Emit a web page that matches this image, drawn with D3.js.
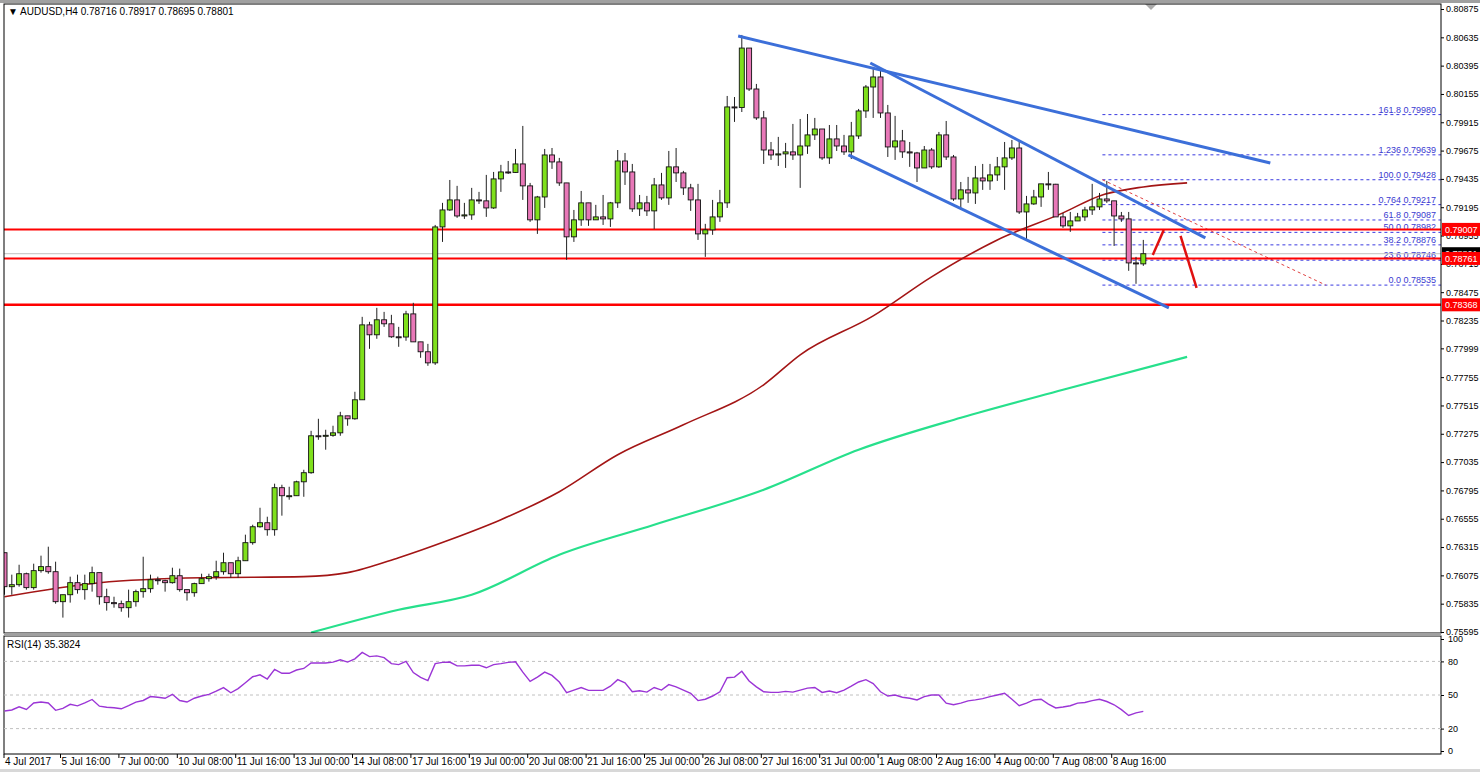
<!DOCTYPE html>
<html><head><meta charset="utf-8">
<script src="https://cdn.jsdelivr.net/npm/d3@7"></script>
<style>body{margin:0;background:#fff;font-family:"Liberation Sans",Arial,sans-serif;}</style>
</head><body><svg id="c" width="1480" height="772" font-family="Liberation Sans, Arial, sans-serif"></svg>
<script>
// ---- data (prices ×1e5 for OHLC arrays) ----
const firstOpen5 = 76267;
const closes5 = [75979,75996,76089,75971,76115,76149,76106,75852,75911,76013,
75954,76005,76098,75894,75844,75835,75801,75852,75937,75962,
76038,76030,76013,76072,75954,75928,76005,76047,76064,76106,
76182,76089,76199,76352,76487,76521,76462,76818,76750,76750,
76868,76945,77258,77255,77262,77283,77427,77402,77563,78198,
78114,78241,78207,78097,78095,78291,78054,77970,77876,79028,
79172,79257,79121,79130,79257,79249,79189,79435,79494,79490,
79562,79376,79088,79282,79638,79579,79401,78944,79088,79232,
79088,79113,79096,79232,79587,79494,79181,79232,79164,79384,
79274,79537,79486,79359,79257,78969,79003,79113,79232,80045,
80040,80544,80197,79952,79680,79638,79647,79664,79638,79714,
79808,79858,79613,79774,79714,79664,79799,80011,80214,80299,
79994,79706,79757,79664,79655,79528,79680,79537,79808,79621,
79265,79342,79316,79443,79418,79469,79537,79613,79697,79155,
79223,79282,79393,79390,79113,79037,79079,79113,79172,79198,
79265,79249,79121,79096,78723,78715,78801];
const highs5 = [76267,76081,76165,76098,76174,76242,76318,76191,75911,76064,
76081,76081,76149,76098,75962,75894,75861,75954,75954,76233,
76081,76064,76038,76140,76132,75954,76013,76089,76089,76199,
76267,76182,76233,76420,76504,76648,76572,76852,76843,76826,
76877,76970,77300,77402,77309,77343,77461,77427,77631,78266,
78224,78342,78308,78283,78181,78317,78385,78054,78037,79045,
79232,79426,79376,79232,79359,79325,79469,79494,79554,79587,
79689,79884,79401,79291,79689,79697,79613,79401,79172,79333,
79232,79215,79299,79240,79680,79655,79562,79299,79291,79443,
79486,79672,79697,79503,79393,79393,79054,79257,79342,80138,
80129,80655,80544,80240,80011,79748,79791,79740,79901,79943,
79985,79952,79816,79892,79892,79808,79918,80028,80231,80384,
80375,80062,79969,79850,79748,79664,79714,79697,79833,79926,
79638,79409,79452,79545,79562,79562,79621,79748,79765,79757,
79291,79342,79393,79494,79393,79147,79155,79147,79198,79393,
79316,79418,79249,79155,79155,78774,78918];
const lows5 = [75911,75911,75979,75954,75954,76098,76089,75835,75717,75844,
75920,75869,75937,75827,75776,75801,75767,75717,75810,75886,
75928,75996,75937,76005,75937,75861,75894,76005,76022,76038,
76081,76055,76055,76199,76335,76479,76411,76411,76581,76716,
76750,76741,76936,77224,77140,77250,77258,77343,77394,77563,
77995,78080,78181,78088,78012,78063,78054,77919,77851,77859,
78901,79164,79105,79096,79088,79223,79113,79181,79325,79477,
79486,79257,79071,78969,79189,79520,79376,78749,78901,79037,
79037,79088,79045,79028,79189,79384,79155,79121,79121,79011,
79257,79215,79409,79299,79164,78918,78774,78961,79071,79189,
79918,80002,80180,79935,79562,79596,79545,79528,79596,79359,
79647,79765,79596,79562,79672,79638,79604,79774,79952,79952,
79952,79621,79596,79613,79537,79409,79587,79520,79528,79596,
79249,79172,79232,79223,79342,79342,79418,79342,79596,79138,
78918,79215,79198,79342,79113,79020,78986,79130,79079,79130,
79172,79232,78867,79071,78656,78546,78698];
const rsi = [35.7,36.6,39.4,37.1,42.9,43.7,42.9,36.3,38,41.7,40.3,42.9,46,40,39.1,38.6,37.7,40.6,43.7,45.1,
48.6,48,47.1,50.6,45.1,43.7,47.1,49.1,50.6,53.4,56.6,52,55.7,60.9,66.3,68,64.3,72.9,69.4,69.4,
72.3,73.7,78.6,78.6,78.6,79.4,81.4,79.4,82.3,88,84.3,84.9,83.4,78,77.1,80,70,65.7,62.9,78,
79.1,79.4,76,76,76.6,76.6,74.3,77.1,78,79.1,79.7,70.4,62.2,66,70.4,67.5,61.6,52,54.4,56.7,
54.1,54.1,54.1,57.9,63.7,60.8,52.9,53.8,52.6,56.7,54.4,59.3,57.3,54.4,51.5,45,46.2,49.1,52.9,65.4,
66,71.2,62.5,57.3,52.9,52.3,52.3,53.2,52.6,54.4,56.1,56.7,52.3,53.5,52,54.4,57.9,61.6,63.7,60.2,
52.9,49.1,50,48,47.1,45.6,48.5,50,50,42.7,41.3,42.7,44.8,45.6,46.8,48.5,50,51.5,46.2,40.4,
42.7,45.6,46.2,41.8,38.4,39.3,40.4,42.7,43.3,45,46.2,44.2,41.3,36.9,31.7,34,35.38];
const ma100 = [[0,0.75894],[13,0.76013],[27,0.76055],[41,0.76064],[47,0.76098],[54,0.76225],[61,0.76377],[68,0.76547],[76,0.76784],[84,0.77097],[93,0.77351],[104,0.77690],[109,0.77944],[119,0.78274],[127,0.78605],[136,0.78918],[145,0.79147],[150,0.79291],[156,0.79367],[162,0.79401]];
const ma200 = [[42,0.75590],[54,0.75784],[64,0.75911],[76,0.76250],[89,0.76504],[104,0.76801],[117,0.77140],[131,0.77411],[145,0.77648],[162,0.77927]];
const trendLines = [[[100.5,0.80646],[173.4,0.79570]],[[118.6,0.80417],[164.5,0.78935]],[[115.6,0.79638],[159.5,0.78342]]];
const fibLevels = [0.79980,0.79639,0.79428,0.79217,0.79087,0.78982,0.78876,0.78746,0.78535];
const fibLabels = ["161.8 0.79980","1.236 0.79639","100.0 0.79428","0.764 0.79217","61.8 0.79087","50.0 0.78982","38.2 0.78876","23.6 0.78746","0.0 0.78535"];
const redLevels = [0.79007,0.78761,0.78368];
const currentPrice = 0.78801;
const arrows = [[[157.3,0.78791],[158.8,0.79003]],[[161.1,0.78952],[163.3,0.78512]]];
const diagDash = [[150.4,0.79428],[181,0.78535]];
const priceTicks = [0.80875,0.80635,0.80395,0.80155,0.79915,0.79675,0.79435,0.79195,0.78955,0.78715,0.78475,0.78235,0.77999,0.77755,0.77515,0.77275,0.77035,0.76795,0.76555,0.76315,0.76075,0.75835,0.75595];
const timeBars = [0,10,18,26,34,42,50,58,66,74,82,90,98,106,114,122,130,138,146,154];
const timeLabels = ["4 Jul 2017","5 Jul 16:00","7 Jul 00:00","10 Jul 08:00","11 Jul 16:00","13 Jul 00:00","14 Jul 08:00","17 Jul 16:00","19 Jul 00:00","20 Jul 08:00","21 Jul 16:00","25 Jul 00:00","26 Jul 08:00","27 Jul 16:00","31 Jul 00:00","1 Aug 08:00","2 Aug 16:00","4 Aug 00:00","7 Aug 08:00","8 Aug 16:00"];
const rsiLevels = [80,50,20];
const rsiTicks = [100,80,50,20,0];

const svg = d3.select("#c");
const L=4, R=1441, T=4, B=633, RT=636, RB=754;
const x = d3.scaleLinear().domain([0,156]).range([4.5,4.5+7.3*156]);
const y = d3.scaleLinear().domain([0.75595,0.80875]).range([632,9]);
const yr = d3.scaleLinear().domain([0,100]).range([751,639]);
const bars = closes5.map((c,i)=>{const o=(i?closes5[i-1]:firstOpen5)/1e5, cc=c/1e5;
  return {i,o,c:cc,h:Math.max(highs5[i]/1e5,o,cc),l:Math.min(lows5[i]/1e5,o,cc)};});

svg.append("rect").attr("width",1480).attr("height",772).attr("fill","#fff");
svg.append("clipPath").attr("id","cp").append("rect").attr("x",L).attr("y",T).attr("width",R-L).attr("height",B-T);
svg.append("clipPath").attr("id","cr").append("rect").attr("x",L).attr("y",RT).attr("width",R-L).attr("height",RB-RT);
const g = svg.append("g").attr("clip-path","url(#cp)");

fibLevels.forEach((v,k)=>{
  g.append("line").attr("x1",x(150.4)).attr("x2",R).attr("y1",y(v)).attr("y2",y(v))
   .attr("stroke","#3a3ae0").attr("stroke-dasharray","3,3").attr("stroke-width",1);
  g.append("text").attr("x",R-5).attr("y",y(v)-2).attr("text-anchor","end").attr("font-size",9)
   .attr("fill","#3a3ad0").text(fibLabels[k]);
});
g.append("line").attr("x1",x(diagDash[0][0])).attr("y1",y(diagDash[0][1])).attr("x2",x(diagDash[1][0])).attr("y2",y(diagDash[1][1]))
 .attr("stroke","#e04040").attr("stroke-dasharray","3,3");
g.append("line").attr("x1",L).attr("x2",R).attr("y1",y(currentPrice)).attr("y2",y(currentPrice)).attr("stroke","#c0c0c0");
redLevels.forEach((v,k)=>g.append("line").attr("x1",L).attr("x2",R).attr("y1",y(v)).attr("y2",y(v))
  .attr("stroke","#ff0000").attr("stroke-width",k==2?2.5:2));
const ln = d3.line().x(d=>x(d[0])).y(d=>y(d[1])).curve(d3.curveMonotoneX);
g.append("path").attr("d",ln(ma200)).attr("fill","none").attr("stroke","#27e08c").attr("stroke-width",2.2);
g.append("path").attr("d",ln(ma100)).attr("fill","none").attr("stroke","#a31515").attr("stroke-width",1.6);
const cg = g.selectAll(".k").data(bars).join("g");
cg.append("line").attr("x1",d=>x(d.i)).attr("x2",d=>x(d.i)).attr("y1",d=>y(d.h)).attr("y2",d=>y(d.l)).attr("stroke","#222");
cg.append("rect").attr("x",d=>x(d.i)-2.5).attr("width",5)
  .attr("y",d=>y(Math.max(d.o,d.c))).attr("height",d=>Math.max(1,Math.abs(y(d.o)-y(d.c))))
  .attr("fill",d=>d.c>=d.o?"#7fe01c":"#e878b8").attr("stroke","#111").attr("stroke-width",0.9);
trendLines.forEach(t=>g.append("line").attr("x1",x(t[0][0])).attr("y1",y(t[0][1])).attr("x2",x(t[1][0])).attr("y2",y(t[1][1]))
  .attr("stroke","#3c6fd9").attr("stroke-width",3));
arrows.forEach(a=>g.append("line").attr("x1",x(a[0][0])).attr("y1",y(a[0][1])).attr("x2",x(a[1][0])).attr("y2",y(a[1][1]))
  .attr("stroke","#e01010").attr("stroke-width",2.5));

svg.append("text").attr("x",8).attr("y",15).attr("font-size",10).attr("fill","#000").text("▼  AUDUSD,H4  0.78716 0.78917 0.78695 0.78801");
svg.append("path").attr("d","M1145,4 L1157,4 L1151,10 Z").attr("fill","#aaa");

svg.append("rect").attr("x",L).attr("y",T).attr("width",R-L).attr("height",B-T).attr("fill","none").attr("stroke","#000");
svg.append("rect").attr("x",L).attr("y",RT).attr("width",R-L).attr("height",RB-RT).attr("fill","none").attr("stroke","#000");
svg.append("rect").attr("x",0).attr("y",0).attr("width",1480).attr("height",3).attr("fill","#a0a0a0");
svg.append("rect").attr("x",L).attr("y",B).attr("width",R-L).attr("height",3).attr("fill","#a0a0a0");

const ax = svg.append("g").attr("transform",`translate(${R},0)`)
  .call(d3.axisRight(y).tickValues(priceTicks).tickFormat(d3.format(".5f")).tickSize(3).tickPadding(2));
ax.select(".domain").remove();
ax.selectAll("text").attr("font-size",9).attr("font-family","Liberation Sans, Arial").attr("fill","#000");
function tag(v,bg){const yy=y(v);
  svg.append("rect").attr("x",R+1).attr("y",yy-6.5).attr("width",38).attr("height",13).attr("fill",bg);
  svg.append("text").attr("x",R+4).attr("y",yy+3.5).attr("font-size",9).attr("fill","#fff").text(d3.format(".5f")(v));}
tag(currentPrice,"#000"); tag(redLevels[0],"#ff0000"); tag(redLevels[1],"#ff0000"); tag(redLevels[2],"#ff0000");

const rg = svg.append("g").attr("clip-path","url(#cr)");
rsiLevels.forEach(v=>rg.append("line").attr("x1",L).attr("x2",R).attr("y1",yr(v)).attr("y2",yr(v))
  .attr("stroke","#c0c0c0").attr("stroke-dasharray","3,3"));
rg.append("path").attr("d",d3.line().x((d,i)=>x(i)).y(d=>yr(d))(rsi)).attr("fill","none").attr("stroke","#9b35d6").attr("stroke-width",1.4);
svg.append("text").attr("x",7).attr("y",648).attr("font-size",10).text("RSI(14) 35.3824");
const ra = svg.append("g").attr("transform",`translate(${R},0)`)
  .call(d3.axisRight(yr).tickValues(rsiTicks).tickSize(3).tickPadding(4));
ra.select(".domain").remove();
ra.selectAll("text").attr("font-size",9).attr("font-family","Liberation Sans, Arial");

const ta = svg.append("g");
timeBars.forEach((b,k)=>{
  const xx = k==0?4:x(b)-17;
  ta.append("line").attr("x1",xx).attr("x2",xx).attr("y1",RB).attr("y2",RB+4).attr("stroke","#000");
  ta.append("text").attr("x",xx+1).attr("y",765).attr("font-size",10).text(timeLabels[k]);
});
svg.append("rect").attr("x",0).attr("y",769).attr("width",1480).attr("height",3).attr("fill","#d8d8d8");
</script></body></html>
